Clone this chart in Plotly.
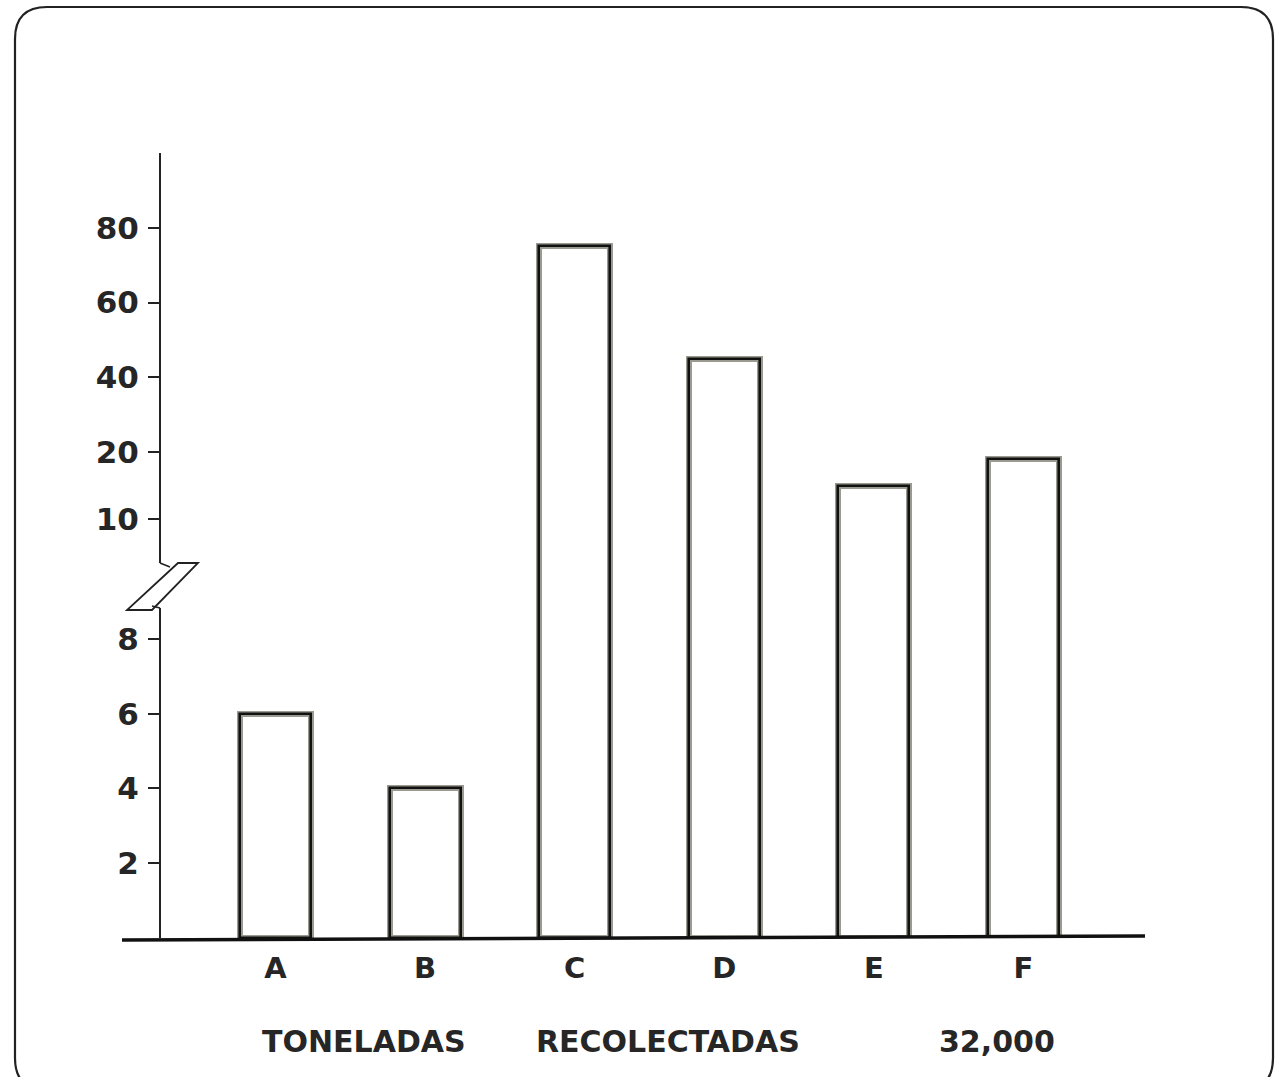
import numpy as np
import plotly.graph_objects as go

# ---- data ----
categories = ["A", "B", "C", "D", "E", "F"]
tonnes = [6, 4, 75, 45, 15, 19]           # thousands of tonnes
tick_values = [2, 4, 6, 8, 10, 20, 40, 60, 80]
tick_labels = ["2", "4", "6", "8", "10", "20", "40", "60", "80"]
footer_words = ["TONELADAS", "RECOLECTADAS", "32,000"]

# broken / irregular scale of the hand-drawn axis: value -> drawn position
scale_values = [0, 8, 10, 20, 40, 60, 80]
scale_positions = [0, 8, 11.2, 13.0, 15.0, 17.0, 19.0]


def to_pos(v):
    return np.interp(v, scale_values, scale_positions)


W, H = 1276, 1077
L, R, T, B = 122, 131, 153, 139
pw, ph = W - L - R, H - T - B
Y_TOP = 21.0


def px_x(px):
    return (px - L) / pw


def px_y_data(py):
    return (H - B - py) / ph * Y_TOP


def px_y_paper(py):
    return (H - B - py) / ph


FONT = "DejaVu Sans"
INK = "#262626"
axis_x = px_x(160)

fig = go.Figure()
# outer gray halo to imitate the double inked outline
fig.add_trace(go.Bar(
    x=categories, y=to_pos(tonnes), width=0.475,
    marker=dict(color="white", line=dict(color="#9a9a90", width=6)),
    hoverinfo="skip", showlegend=False,
))
fig.add_trace(go.Bar(
    x=categories, y=to_pos(tonnes), width=0.475,
    marker=dict(color="rgba(255,255,255,0)", line=dict(color="#111111", width=2.6)),
    customdata=tonnes, hovertemplate="%{x}: %{customdata}<extra></extra>",
    showlegend=False,
))

shapes = []
# y axis line, in two pieces around the break
shapes.append(dict(type="line", xref="paper", yref="y", x0=axis_x, x1=axis_x,
                   y0=0, y1=px_y_data(608), line=dict(color="#222", width=2)))
shapes.append(dict(type="line", xref="paper", yref="y", x0=axis_x, x1=axis_x,
                   y0=px_y_data(563), y1=Y_TOP, line=dict(color="#222", width=2)))
# break mark (parallelogram) and small jogs
brk = [(127, 610), (152, 610), (198, 563), (178, 563)]
path = "M " + " L ".join(f"{px_x(a)},{px_y_paper(b)}" for a, b in brk) + " Z"
shapes.append(dict(type="path", xref="paper", yref="paper", path=path,
                   line=dict(color="#222", width=1.8)))
shapes.append(dict(type="line", xref="paper", yref="paper",
                   x0=axis_x, y0=px_y_paper(563), x1=px_x(170), y1=px_y_paper(567),
                   line=dict(color="#222", width=1.8)))
shapes.append(dict(type="line", xref="paper", yref="paper",
                   x0=px_x(152), y0=px_y_paper(606), x1=axis_x, y1=px_y_paper(608),
                   line=dict(color="#222", width=1.8)))
# baseline
shapes.append(dict(type="line", xref="paper", yref="paper", x0=0, x1=1,
                   y0=px_y_paper(940), y1=px_y_paper(936), line=dict(color="#111", width=3.5),
                   layer="above"))
# rounded frame
fx0, fy0, fx1, fy1, r = 15, 7, 1273, 1090, 32
pts = [
    ("M", (fx0 + r, fy0)), ("L", (fx1 - r, fy0)), ("Q", (fx1, fy0), (fx1, fy0 + r)),
    ("L", (fx1, fy1 - r)), ("Q", (fx1, fy1), (fx1 - r, fy1)), ("L", (fx0 + r, fy1)),
    ("Q", (fx0, fy1), (fx0, fy1 - r)), ("L", (fx0, fy0 + r)), ("Q", (fx0, fy0), (fx0 + r, fy0)),
]
segs = []
for item in pts:
    cmd = item[0]
    coords = " ".join(f"{px_x(a)},{px_y_paper(b)}" for a, b in item[1:])
    segs.append(f"{cmd} {coords}")
shapes.append(dict(type="path", xref="paper", yref="paper", path=" ".join(segs) + " Z",
                   line=dict(color="#222", width=2.2)))

annotations = []
footer_centers = [364, 668, 997]
for word, cx in zip(footer_words, footer_centers):
    annotations.append(dict(text=word, xref="paper", yref="paper", x=px_x(cx),
                            y=px_y_paper(1041), xanchor="center", yanchor="middle",
                            showarrow=False,
                            font=dict(family=FONT, size=30, color=INK, weight="bold")))

fig.update_layout(
    width=W, height=H,
    margin=dict(l=L, r=R, t=T, b=B, pad=0),
    paper_bgcolor="white", plot_bgcolor="white",
    barmode="overlay", bargap=0,
    shapes=shapes, annotations=annotations,
    font=dict(family=FONT, size=29, color=INK),
    xaxis=dict(
        type="category", categoryorder="array", categoryarray=categories,
        range=[(L - 275.5) / 149.6, (W - R - 275.5) / 149.6],
        showgrid=False, zeroline=False, showline=False, ticks="",
        tickfont=dict(family=FONT, size=29, color=INK, weight="bold"),
        ticklabelstandoff=10,
    ),
    yaxis=dict(
        range=[0, Y_TOP], anchor="free", position=axis_x,
        tickmode="array", tickvals=list(to_pos(tick_values)), ticktext=tick_labels,
        ticks="outside", ticklen=12, tickwidth=2, tickcolor="#222",
        showgrid=False, zeroline=False, showline=False,
        tickfont=dict(family=FONT, size=31, color=INK, weight="bold"),
        ticklabelstandoff=3,
    ),
)

fig.write_html(
    "out.html",
    config={"displayModeBar": False},
    post_script="document.body.style.margin='0';document.body.style.overflow='hidden';",
)
